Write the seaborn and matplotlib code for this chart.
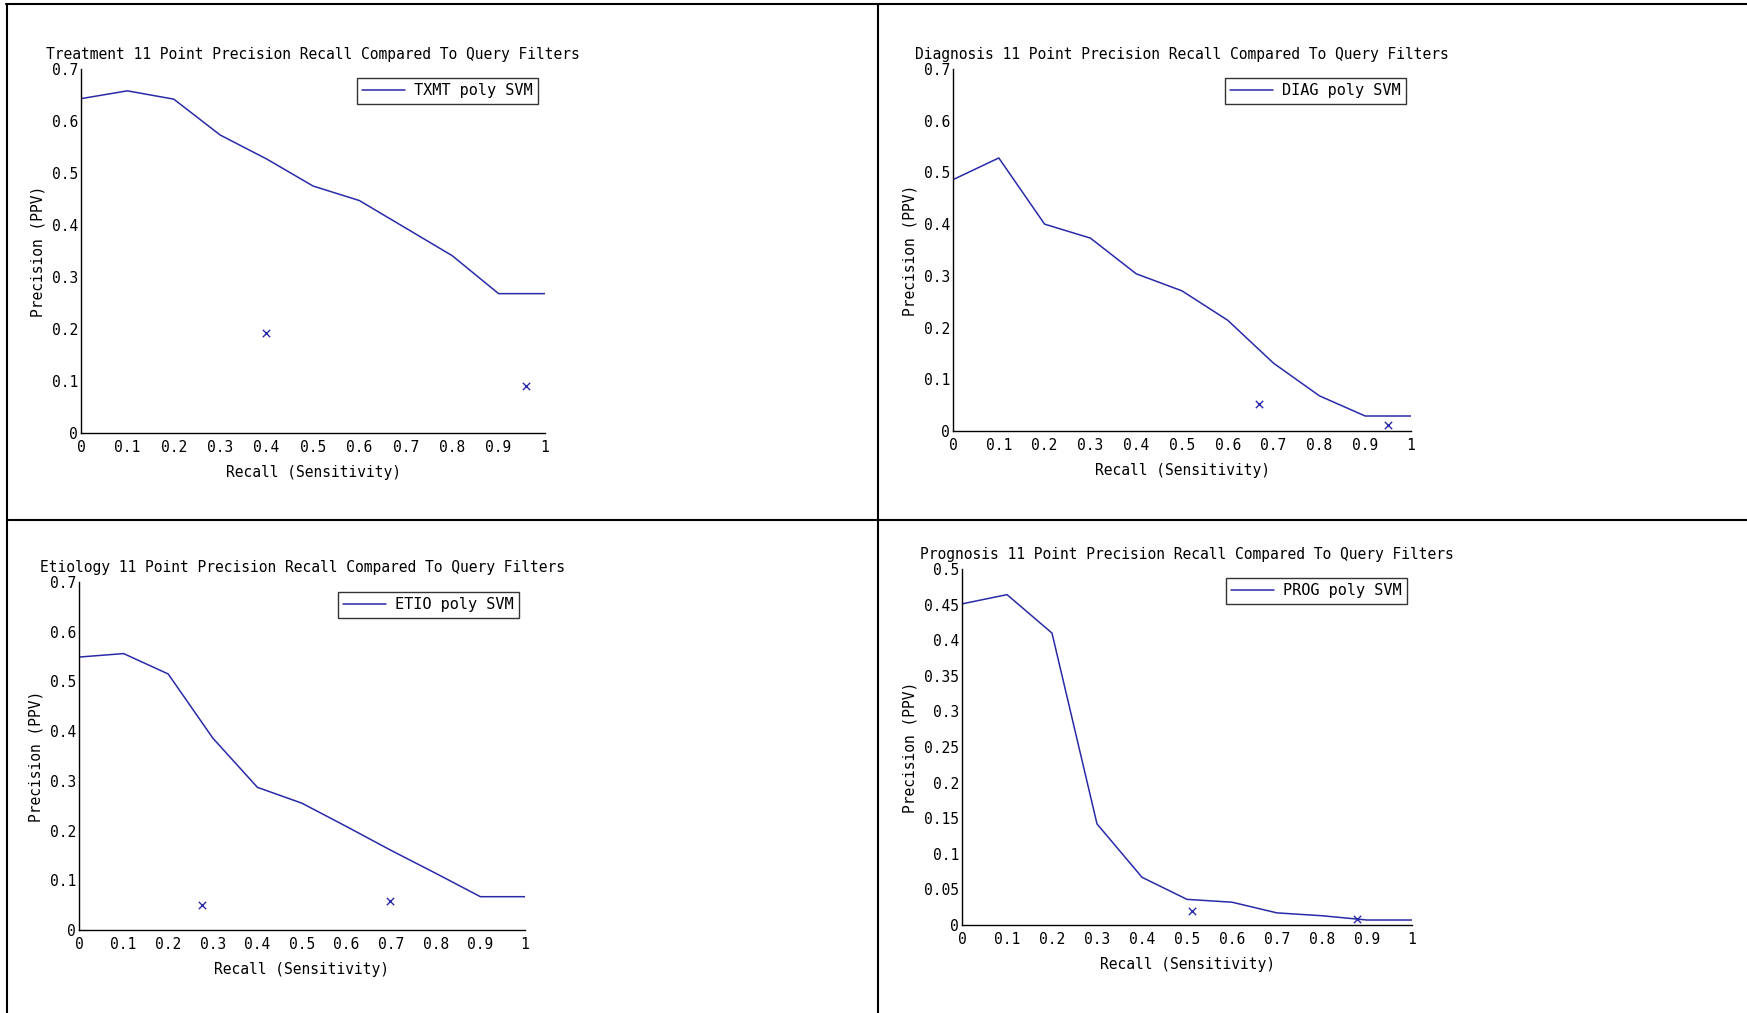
import matplotlib
matplotlib.use("Agg")
import matplotlib.pyplot as plt
import seaborn as sns
import numpy as np
import pandas as pd
from matplotlib.lines import Line2D
from matplotlib.ticker import FuncFormatter

# ---------------- data ----------------
recall = [0.0, 0.1, 0.2, 0.3, 0.4, 0.5, 0.6, 0.7, 0.8, 0.9, 1.0]

txmt_prec = [0.643, 0.658, 0.642, 0.573, 0.527, 0.475, 0.447, 0.394, 0.341, 0.268, 0.268]
txmt_filter_x = [0.399, 0.959]
txmt_filter_y = [0.192, 0.091]

diag_prec = [0.486, 0.528, 0.400, 0.373, 0.304, 0.271, 0.214, 0.131, 0.068, 0.029, 0.029]
diag_filter_x = [0.668, 0.949]
diag_filter_y = [0.052, 0.012]

etio_prec = [0.549, 0.556, 0.515, 0.386, 0.287, 0.255, 0.208, 0.160, 0.114, 0.067, 0.067]
etio_filter_x = [0.276, 0.698]
etio_filter_y = [0.050, 0.059]

prog_prec = [0.451, 0.464, 0.410, 0.142, 0.067, 0.036, 0.032, 0.017, 0.013, 0.007, 0.007]
prog_filter_x = [0.511, 0.877]
prog_filter_y = [0.020, 0.009]

titles = ["Treatment 11 Point Precision Recall Compared To Query Filters",
          "Diagnosis 11 Point Precision Recall Compared To Query Filters",
          "Etiology 11 Point Precision Recall Compared To Query Filters",
          "Prognosis 11 Point Precision Recall Compared To Query Filters"]
legend_labels = ["TXMT poly SVM", "DIAG poly SVM", "ETIO poly SVM", "PROG poly SVM"]
xlabel = "Recall (Sensitivity)"
ylabel = "Precision (PPV)"
x_ticks = [0, 0.1, 0.2, 0.3, 0.4, 0.5, 0.6, 0.7, 0.8, 0.9, 1]
y_ticks_a = [0, 0.1, 0.2, 0.3, 0.4, 0.5, 0.6, 0.7]
y_ticks_b = [0, 0.05, 0.1, 0.15, 0.2, 0.25, 0.3, 0.35, 0.4, 0.45, 0.5]

# ---------------- style ----------------
sns.set_theme(style="white")
plt.rcParams['font.family'] = ['DejaVu Sans Mono', 'DejaVu Sans']
plt.rcParams['xtick.direction'] = 'in'
plt.rcParams['ytick.direction'] = 'in'

W, H = 1747, 1013
fig = plt.figure(figsize=(W / 100, H / 100), dpi=100)
fig.patch.set_facecolor("white")

LINE_COLOR = "#2a2aa8"
FS = 10.5

def px_axes(l, r, t, b):
    return [l / W, 1 - b / H, (r - l) / W, (b - t) / H]

panels = [
    dict(pos=(81, 545, 69, 433), prec=txmt_prec, fx=txmt_filter_x, fy=txmt_filter_y,
         ymax=0.7, yt=y_ticks_a, leg=(538, 78)),
    dict(pos=(953, 1411, 69, 431), prec=diag_prec, fx=diag_filter_x, fy=diag_filter_y,
         ymax=0.7, yt=y_ticks_a, leg=(1406, 78)),
    dict(pos=(79, 525, 582, 930), prec=etio_prec, fx=etio_filter_x, fy=etio_filter_y,
         ymax=0.7, yt=y_ticks_a, leg=(519, 592)),
    dict(pos=(962, 1412, 569, 925), prec=prog_prec, fx=prog_filter_x, fy=prog_filter_y,
         ymax=0.5, yt=y_ticks_b, leg=(1407, 578)),
]

fmt = FuncFormatter(lambda v, p: "%g" % round(v, 3))

for i, p in enumerate(panels):
    ax = fig.add_axes(px_axes(*p["pos"]))
    df = pd.DataFrame({"recall": recall, "precision": p["prec"]})
    sns.lineplot(data=df, x="recall", y="precision", ax=ax, color=LINE_COLOR,
                 linewidth=1.1, label=legend_labels[i])
    dff = pd.DataFrame({"x": p["fx"], "y": p["fy"]})
    sns.scatterplot(data=dff, x="x", y="y", ax=ax, marker="x", color=LINE_COLOR,
                    s=28, linewidth=1.0, legend=False)
    ax.set_xlim(0, 1)
    ax.set_ylim(0, p["ymax"])
    ax.set_xticks(x_ticks)
    ax.set_yticks(p["yt"])
    ax.xaxis.set_major_formatter(fmt)
    ax.yaxis.set_major_formatter(fmt)
    ax.tick_params(axis="both", which="major", length=5, width=1.0, color="black",
                   labelsize=FS, labelcolor="black")
    ax.tick_params(axis="x", pad=5)
    ax.tick_params(axis="y", pad=2)
    for s in ["top", "right"]:
        ax.spines[s].set_visible(False)
    for s in ["left", "bottom"]:
        ax.spines[s].set_color("black")
        ax.spines[s].set_linewidth(1.0)
    ax.set_facecolor("white")
    ax.set_xlabel(xlabel, fontsize=FS, color="black", labelpad=7)
    ax.set_ylabel(ylabel, fontsize=FS, color="black", labelpad=5)
    ax.set_title(titles[i], fontsize=FS, color="black", pad=7)
    lx, ly = p["leg"]
    leg = ax.legend(loc="upper right", bbox_to_anchor=(lx / W, 1 - ly / H),
                    bbox_transform=fig.transFigure, fontsize=11, frameon=True,
                    fancybox=False, borderpad=0.35, handlelength=2.8,
                    handletextpad=0.6, borderaxespad=0)
    leg.get_frame().set_edgecolor("black")
    leg.get_frame().set_linewidth(1.0)
    for t in leg.get_texts():
        t.set_color("black")

# table borders
lw = 1.5
fig.add_artist(Line2D([6 / W, 1], [1 - 4 / H, 1 - 4 / H], color="black", lw=lw))
fig.add_artist(Line2D([7 / W, 7 / W], [0, 1 - 4 / H], color="black", lw=lw))
fig.add_artist(Line2D([877.5 / W, 877.5 / W], [0, 1 - 4 / H], color="black", lw=lw))
fig.add_artist(Line2D([7 / W, 1], [1 - 520 / H, 1 - 520 / H], color="black", lw=lw))

fig.savefig("out.png", dpi=100, facecolor="white")
